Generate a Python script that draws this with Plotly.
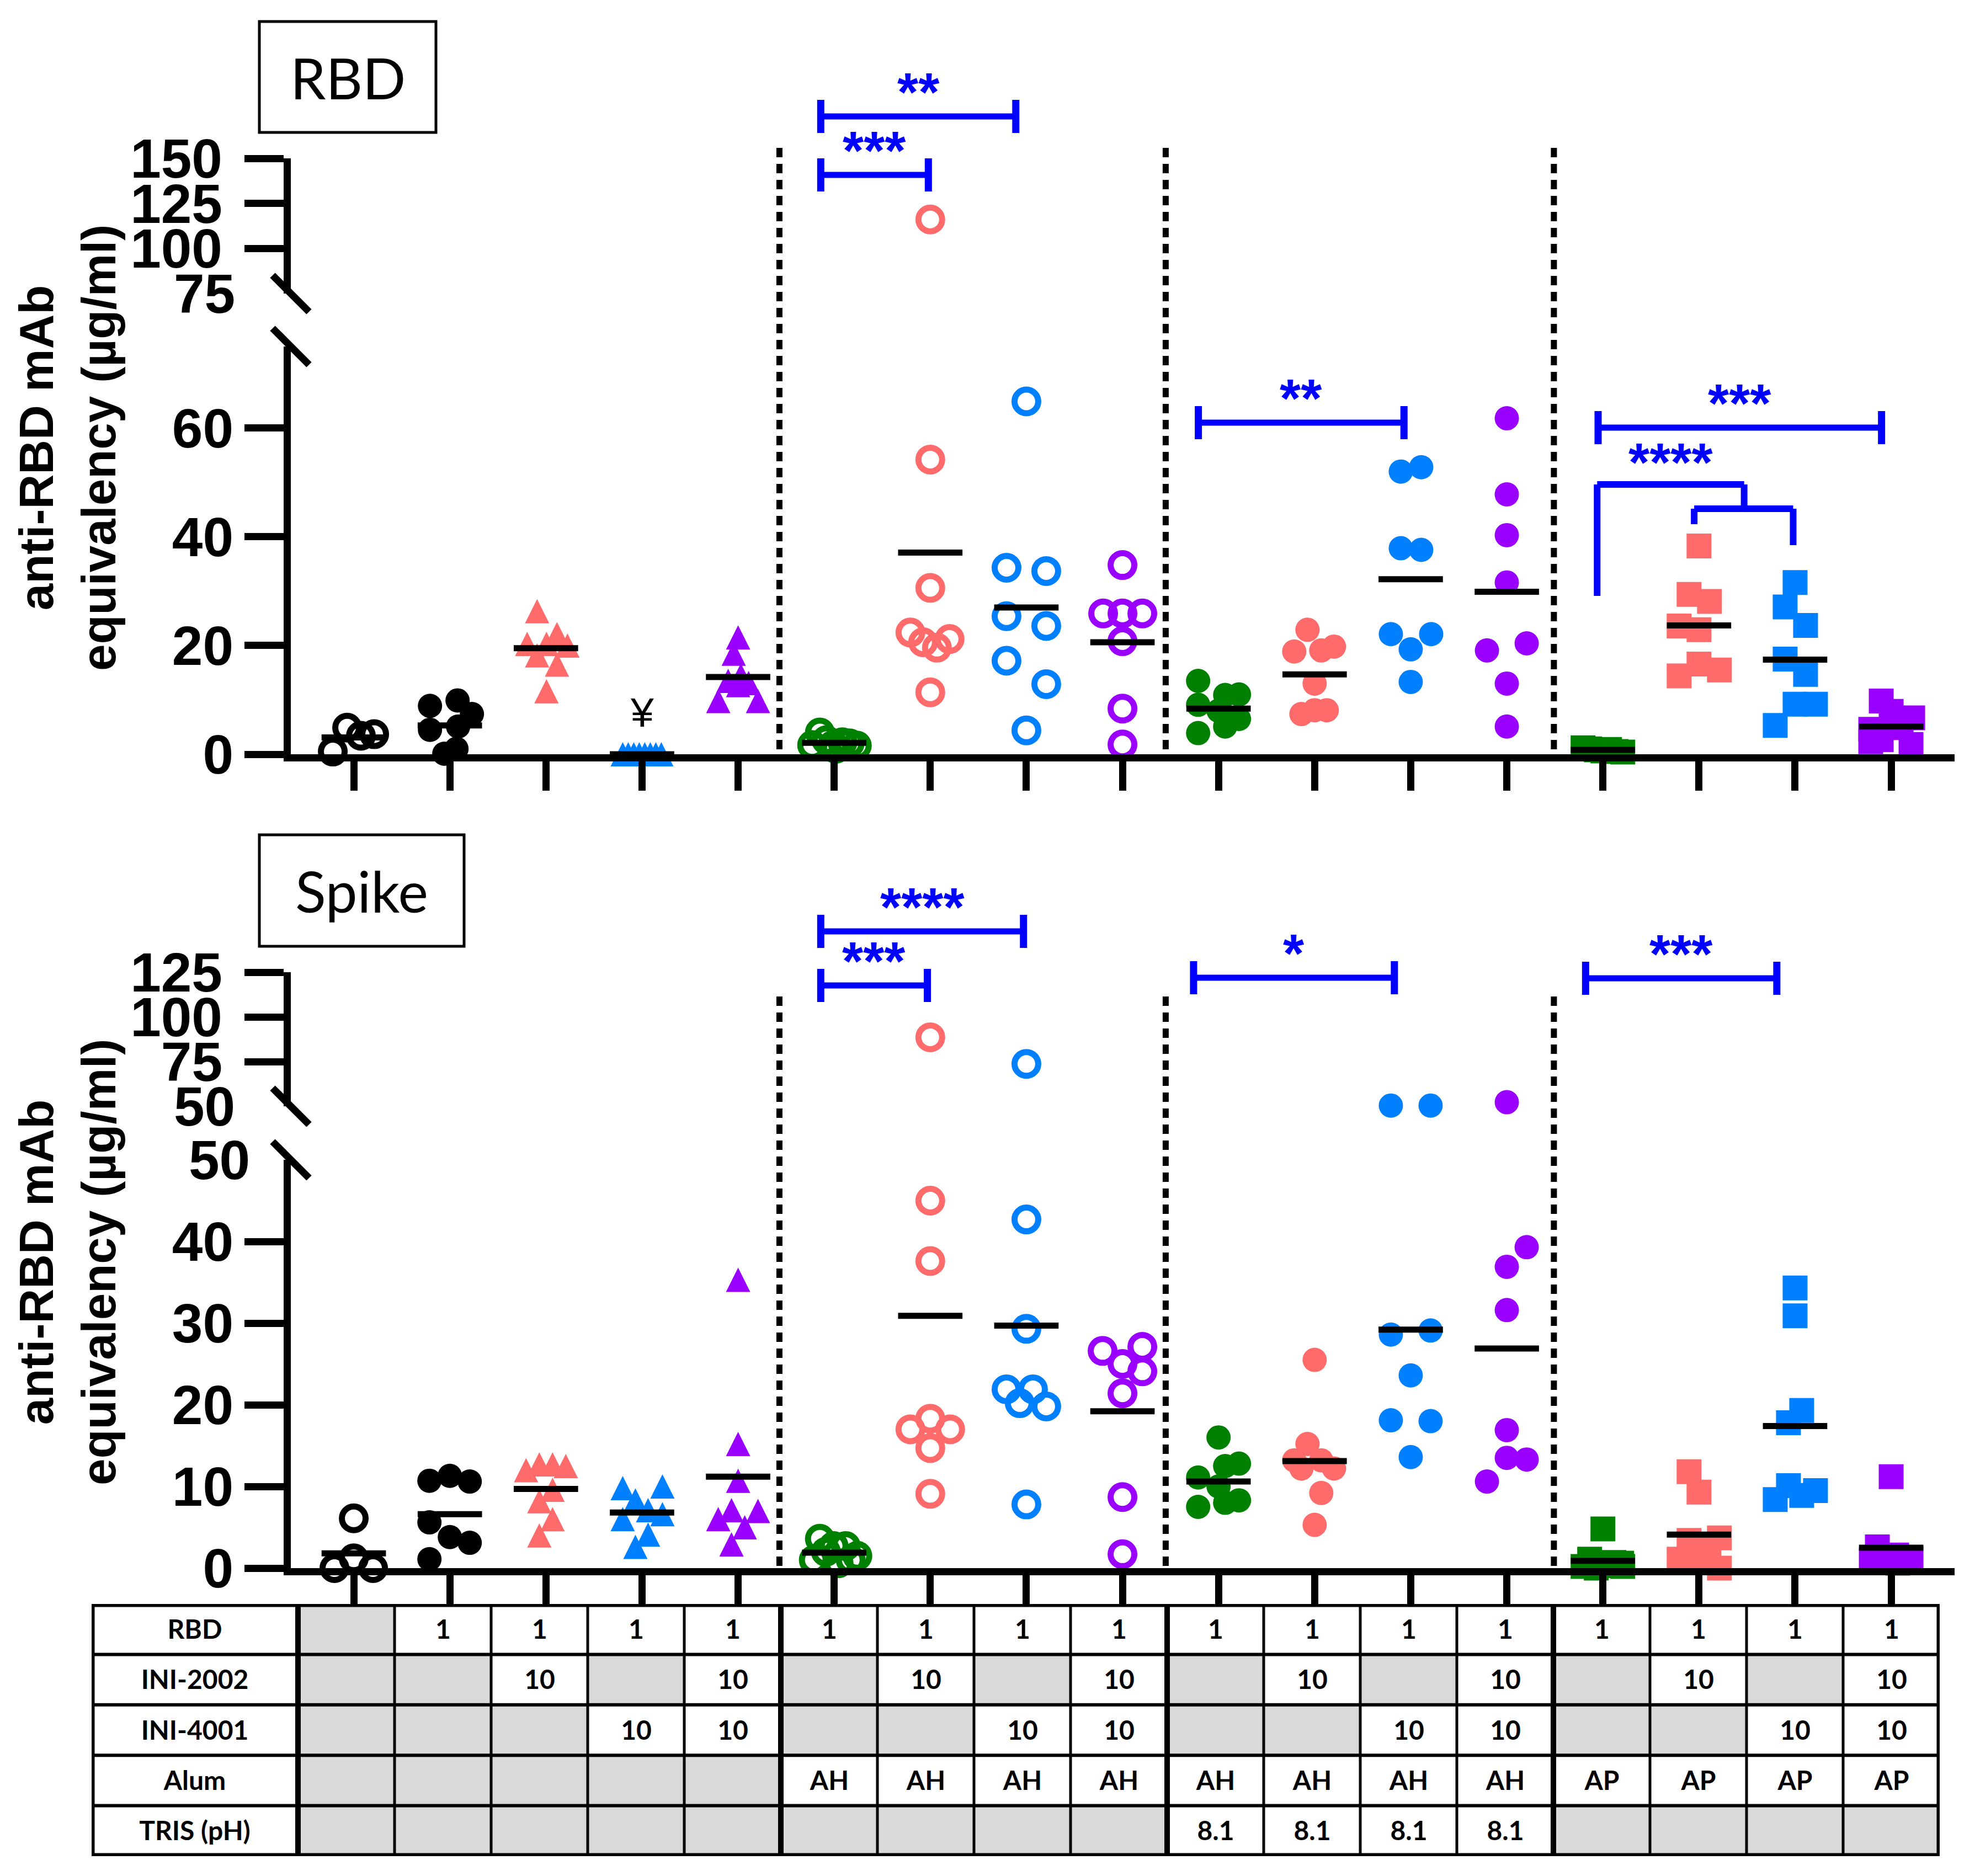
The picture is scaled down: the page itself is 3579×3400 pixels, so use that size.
import plotly.graph_objects as go

W, H = 3579, 3400
PAGE_MARGIN = 8  # default body margin of the written html page

# ---------------- DATA ----------------
GROUP_IDX = list(range(17))

# RBD panel values (anti-RBD mAb equivalency, ug/ml)
RBD_PBS = [0.5, 4.9, 3.4, 3.7]
RBD_RBD = [8.9, 9.9, 7.4, 4.5, 5.1, 1.0, 0.1]
RBD_2002 = [26.3, 20.3, 20.3, 22.1, 20.0, 18.2, 16.5, 11.6]
RBD_4001 = [0.0, 0.0, 0.0, 0.0, 0.0, 0.0, 0.0, 0.0]
RBD_COMBO = [21.5, 18.5, 14.5, 13.5, 13.1, 12.7, 9.8, 9.8]
RBD_AH = [4.0, 1.7, 2.2, 1.6, 1.0, 2.6, 2.0, 1.7]
RBD_AH_2002 = [116.1, 54.2, 30.6, 22.4, 21.2, 20.6, 19.6, 11.4]
RBD_AH_4001 = [64.9, 34.3, 33.7, 25.4, 23.6, 17.2, 12.9, 4.4]
RBD_AH_COMBO = [34.8, 25.9, 25.9, 25.9, 20.8, 8.4, 1.8]
RBD_TRIS = [13.5, 9.1, 10.9, 11.0, 6.5, 5.1, 3.9, 8.0]
RBD_TRIS_2002 = [22.9, 18.9, 19.1, 19.8, 13.0, 7.4, 8.1, 8.1]
RBD_TRIS_4001 = [52.0, 52.8, 37.9, 37.6, 22.1, 22.1, 19.3, 13.3]
RBD_TRIS_COMBO = [61.8, 47.8, 40.3, 31.6, 20.4, 19.1, 13.0, 5.1]
RBD_AP = [1.2, 1.0, 0.8, 0.6, 0.9, 0.5, 0.4, 0.7]
RBD_AP_2002 = [38.3, 29.4, 28.1, 23.6, 22.9, 16.6, 14.4, 15.5]
RBD_AP_4001 = [31.6, 27.1, 23.7, 17.5, 14.7, 9.2, 9.2, 5.3]
RBD_AP_COMBO = [9.8, 7.9, 6.7, 4.6, 2.7, 1.8, 2.3, 4.9]
RBD_MEANS = [3.1, 5.3, 19.5, 0.0, 14.2, 2.1, 37.1, 27.0, 20.6, 8.4, 14.7, 32.2, 29.9, 0.8, 23.7, 17.4, 5.1]

# Spike panel values
SPK_PBS = [6.1, 1.2, 0.0, 0.0]
SPK_RBD = [10.7, 11.3, 10.6, 5.6, 3.8, 3.1, 1.1]
SPK_2002 = [12.7, 12.7, 12.5, 12.0, 9.6, 8.2, 6.0, 4.0]
SPK_4001 = [10.0, 9.8, 8.3, 7.1, 6.6, 6.0, 4.1, 2.6]
SPK_COMBO = [35.3, 15.2, 10.7, 7.1, 7.0, 6.0, 5.0, 2.9]
SPK_AH = [3.6, 2.7, 2.7, 1.5, 1.0, 0.6, 1.0, 2.0]
SPK_AH_2002 = [88.6, 45.0, 37.6, 18.3, 17.0, 17.0, 14.7, 9.1]
SPK_AH_4001 = [73.7, 42.7, 29.3, 21.9, 21.9, 20.2, 19.8, 7.8]
SPK_AH_COMBO = [26.6, 27.1, 25.0, 24.1, 21.4, 8.7, 1.7]
SPK_TRIS = [16.0, 12.5, 12.8, 11.1, 10.0, 8.3, 8.0, 7.5]
SPK_TRIS_2002 = [25.5, 15.2, 13.2, 13.2, 12.2, 12.2, 9.2, 5.3]
SPK_TRIS_4001 = [50.4, 50.4, 28.6, 29.1, 23.6, 18.1, 18.0, 13.6]
SPK_TRIS_COMBO = [52.3, 39.3, 36.9, 31.6, 16.9, 13.5, 13.3, 10.6]
SPK_AP = [4.8, 1.1, 0.7, 0.6, 0.2, 0.3, 0.0, 0.2]
SPK_AP_2002 = [11.8, 9.3, 3.4, 3.7, 2.5, 1.1, 0.0, 1.0]
SPK_AP_4001 = [34.3, 30.9, 19.3, 17.8, 10.1, 9.5, 8.9, 8.4]
SPK_AP_COMBO = [11.2, 2.6, 1.6, 1.0, 0.6, 1.2, 0.8, 1.0]
SPK_MEANS = [1.8, 6.6, 9.7, 6.8, 11.2, 1.9, 30.9, 29.7, 19.2, 10.6, 13.1, 29.2, 26.9, 0.9, 4.1, 17.4, 2.5]

# horizontal scatter of points within a column (pixels)
RBD_JIT = [
    [-38, -12, 13, 37], [-36, 14, 40, -36, 15, 12, -10], [-16, -34, 1, 20, 39, -16, 20, 1],
    [-35, -25, -15, -5, 5, 15, 25, 35], [0, -8, 5, -18, 19, 0, -36, 36], [-26, -40, 15, 41, 3, -14, 28, -2],
    [0, 0, 0, -36, 35, -13, 12, 0], [0, -36, 36, -36, 36, -36, 36, 0], [0, -35, 0, 36, 0, 0, 0],
    [-37, -37, 12, 37, 37, 12, -37, 0], [-13, -37, 12, 35, 0, -24, 0, 22], [-18, 19, -18, 19, -36, 37, 0, 0],
    [0, 0, 0, 0, 36, -36, 0, 0], [-36, -24, -12, 0, 12, 24, 36, 6], [0, -18, 19, -36, 0, 0, -36, 37],
    [0, -18, 19, -18, 19, 0, 37, -36], [-18, 0, 39, -37, -18, 36, -37, 18]]
SPK_JIT = [
    [0, 0, -35, 35], [-37, 0, 36, -37, 0, 36, -37], [-12, 12, 36, -36, 12, -12, 12, -12],
    [37, -35, -12, 11, 37, -35, 11, -12], [0, 0, 0, -12, 36, -36, 12, -12], [-26, -1, 21, 42, -37, 8, 30, -15],
    [0, 0, 0, 0, -36, 36, 0, 0], [0, 0, 0, -36, 12, -12, 36, 0], [-36, 36, 0, 36, 0, 0, 0],
    [0, 12, 37, -37, 0, 37, 12, -37], [0, -13, -37, 12, 35, -24, 12, 0], [-36, 36, -36, 36, 0, -36, 36, 0],
    [0, 36, 0, 0, 0, 0, 36, -36], [0, -24, 20, 34, -36, 12, -12, 36], [-18, 0, -18, 37, 18, -36, 37, 0],
    [0, 0, 12, -12, -12, 37, 12, -36], [0, -25, 10, -36, 12, 36, -12, 24]]

RBD_GROUPS = [RBD_PBS, RBD_RBD, RBD_2002, RBD_4001, RBD_COMBO, RBD_AH, RBD_AH_2002, RBD_AH_4001,
              RBD_AH_COMBO, RBD_TRIS, RBD_TRIS_2002, RBD_TRIS_4001, RBD_TRIS_COMBO, RBD_AP,
              RBD_AP_2002, RBD_AP_4001, RBD_AP_COMBO]
SPK_GROUPS = [SPK_PBS, SPK_RBD, SPK_2002, SPK_4001, SPK_COMBO, SPK_AH, SPK_AH_2002, SPK_AH_4001,
              SPK_AH_COMBO, SPK_TRIS, SPK_TRIS_2002, SPK_TRIS_4001, SPK_TRIS_COMBO, SPK_AP,
              SPK_AP_2002, SPK_AP_4001, SPK_AP_COMBO]

KINDS = ["open", "dot", "tri", "tri", "tri", "open", "open", "open", "open",
         "dot", "dot", "dot", "dot", "sq", "sq", "sq", "sq"]
BLACK, SALMON, BLUE, PURPLE, GREEN = "#000000", "#FF6A6A", "#0080FF", "#9900FF", "#008000"
COLORS = [BLACK, BLACK, SALMON, BLUE, PURPLE, GREEN, SALMON, BLUE, PURPLE,
          GREEN, SALMON, BLUE, PURPLE, GREEN, SALMON, BLUE, PURPLE]

# significance brackets: (x-start, x-end, y px, label)
RBD_BRACKETS = [(4.86, 6.89, 211, "**"), (4.86, 5.98, 317, "***"),
                (8.79, 10.93, 766, "**"), (12.95, 15.90, 775, "***")]
SPK_BRACKETS = [(4.86, 6.97, 1688, "****"), (4.86, 5.97, 1786, "***"),
                (8.74, 10.83, 1772, "*"), (12.82, 14.81, 1773, "***")]

# table
ROW_LABELS = ["RBD", "INI-2002", "INI-4001", "Alum", "TRIS (pH)"]
ROW_RBD = [""] + ["1"] * 16
ROW_2002 = ["", "", "10", "", "10", "", "10", "", "10", "", "10", "", "10", "", "10", "", "10"]
ROW_4001 = ["", "", "", "10", "10", "", "", "10", "10", "", "", "10", "10", "", "", "10", "10"]
ROW_ALUM = ["", "", "", "", "", "AH", "AH", "AH", "AH", "AH", "AH", "AH", "AH", "AP", "AP", "AP", "AP"]
ROW_TRIS = [""] * 9 + ["8.1"] * 4 + [""] * 4

# ---------------- LAYOUT ----------------
X_LEFT, X_RIGHT = 527, 3542
X_RANGE = [-0.655, 16.66]
PX_PER_CAT = (X_RIGHT - X_LEFT) / (X_RANGE[1] - X_RANGE[0])


def pxx(v):
    return (v - PAGE_MARGIN) / W


def pxy(v):
    return 1 - (v - PAGE_MARGIN) / H


PANELS = [
    dict(xa="x", ya_lo="y", ya_hi="y2", lo=(1367, 628), hi=(532, 287), lo_range=[0, 75], hi_range=[75, 150],
         lo_ticks=[0, 20, 40, 60], hi_ticks=[100, 125, 150], brk=75, groups=RBD_GROUPS, jit=RBD_JIT,
         means=RBD_MEANS, lo_label=None, hi_label="75", dot_top=268, brackets=RBD_BRACKETS,
         box=(470, 39, 790, 240, "RBD"), title_y=812, ticklen=53),
    dict(xa="x2", ya_lo="y3", ya_hi="y4", lo=(2842, 2102), hi=(2005, 1762), lo_range=[0, 50], hi_range=[50, 125],
         lo_ticks=[0, 10, 20, 30, 40], hi_ticks=[75, 100, 125], brk=50, groups=SPK_GROUPS, jit=SPK_JIT,
         means=SPK_MEANS, lo_label="50", hi_label="50", dot_top=1806, brackets=SPK_BRACKETS,
         box=(470, 1513, 841, 1715, "Spike"), title_y=2288, ticklen=62),
]
SEPARATORS = [4.43, 8.45, 12.49]

TICKFONT = dict(family="Liberation Sans", size=100, color="black", weight="bold")
STARFONT = dict(family="Liberation Sans", size=98, color="#0000FF", weight="bold")
fig = go.Figure()
shapes, annotations = [], []


def marker_for(kind, color):
    if kind == "open":
        return dict(symbol="circle-open", size=43, color=color, line=dict(width=11, color=color))
    if kind == "dot":
        return dict(symbol="circle", size=44, color=color, line=dict(width=0))
    if kind == "tri":
        return dict(symbol="arrow-down", angle=180, standoff=22, size=44, color=color, line=dict(width=0))
    return dict(symbol="square", size=45, color=color, line=dict(width=0))


for p in PANELS:
    for g, vals in enumerate(p["groups"]):
        xs = [GROUP_IDX[g] + j / PX_PER_CAT for j in p["jit"][g]]
        lo_x = [x for x, v in zip(xs, vals) if v <= p["brk"]]
        lo_v = [v for v in vals if v <= p["brk"]]
        hi_x = [x for x, v in zip(xs, vals) if v > p["brk"]]
        hi_v = [v for v in vals if v > p["brk"]]
        mk = marker_for(KINDS[g], COLORS[g])
        for ax_y, xx, vv in ((p["ya_lo"], lo_x, lo_v), (p["ya_hi"], hi_x, hi_v)):
            if vv:
                fig.add_trace(go.Scatter(x=xx, y=vv, mode="markers", marker=mk, xaxis=p["xa"], yaxis=ax_y,
                                         cliponaxis=False, hoverinfo="skip", showlegend=False))
    mx, my = [], []
    for g, m in zip(GROUP_IDX, p["means"]):
        mx += [g - 0.335, g + 0.335, None]
        my += [m, m, None]
    fig.add_trace(go.Scatter(x=mx, y=my, mode="lines", line=dict(color="black", width=11),
                             xaxis=p["xa"], yaxis=p["ya_lo"], cliponaxis=False, hoverinfo="skip",
                             showlegend=False))

    # dotted separators
    for sx in SEPARATORS:
        shapes.append(dict(type="line", xref=p["xa"], yref="paper", x0=sx, x1=sx,
                           y0=pxy(p["dot_top"]), y1=pxy(p["lo"][0]),
                           line=dict(color="black", width=11, dash="17px,12px")))
    # break marks
    for cy in (p["hi"][0], p["lo"][1]):
        shapes.append(dict(type="line", xref="paper", yref="paper", x0=pxx(X_LEFT - 33), x1=pxx(X_LEFT + 33),
                           y0=pxy(cy - 33), y1=pxy(cy + 33), line=dict(color="black", width=13)))
    if p["hi_label"]:
        annotations.append(dict(text=p["hi_label"], xref="paper", yref="paper", x=pxx(428), y=pxy(p["hi"][0]),
                                xanchor="right", yanchor="middle", showarrow=False, font=TICKFONT))
    if p["lo_label"]:
        annotations.append(dict(text=p["lo_label"], xref="paper", yref="paper", x=pxx(455), y=pxy(p["lo"][1]),
                                xanchor="right", yanchor="middle", showarrow=False, font=TICKFONT))
    # brackets
    for x0, x1, ypx, lab in p["brackets"]:
        shapes.append(dict(type="line", xref=p["xa"], yref="paper", x0=x0, x1=x1, y0=pxy(ypx), y1=pxy(ypx),
                           line=dict(color="#0000FF", width=11)))
        for xc in (x0, x1):
            shapes.append(dict(type="line", xref=p["xa"], yref="paper", x0=xc, x1=xc,
                               y0=pxy(ypx - 30), y1=pxy(ypx + 30), line=dict(color="#0000FF", width=13)))
        annotations.append(dict(text=lab, xref=p["xa"], yref="paper", x=(x0 + x1) / 2, y=pxy(ypx - 56 + 12),
                                xanchor="center", yanchor="middle", showarrow=False, font=STARFONT))
    # title box
    bx0, by0, bx1, by1, btxt = p["box"]
    shapes.append(dict(type="rect", xref="paper", yref="paper", x0=pxx(bx0), x1=pxx(bx1), y0=pxy(by1),
                       y1=pxy(by0), line=dict(color="black", width=5)))
    annotations.append(dict(text=btxt, xref="paper", yref="paper", x=pxx((bx0 + bx1) / 2), y=pxy((by0 + by1) / 2),
                            xanchor="center", yanchor="middle", showarrow=False,
                            font=dict(family="Lato", size=103, color="black")))
    # y title
    annotations.append(dict(text="anti-RBD mAb<br>equivalency (µg/ml)", xref="paper", yref="paper",
                            x=pxx(122), y=pxy(p["title_y"]), xanchor="center", yanchor="middle",
                            textangle=-90, showarrow=False,
                            font=dict(family="Liberation Sans", size=87, color="black", weight="bold")))

# complex bracket (AP group, RBD panel)
CPLX = [((12.94, 878), (12.94, 1080)), ((12.94, 878), (14.47, 878)), ((14.47, 878), (14.47, 922)),
        ((13.95, 922), (14.98, 922)), ((13.95, 922), (13.95, 950)), ((14.98, 922), (14.98, 988))]
for (ax0, ay0), (ax1, ay1) in CPLX:
    shapes.append(dict(type="line", xref="x", yref="paper", x0=ax0, x1=ax1, y0=pxy(ay0), y1=pxy(ay1),
                       line=dict(color="#0000FF", width=12)))
annotations.append(dict(text="****", xref="x", yref="paper", x=(12.94 + 14.47) / 2, y=pxy(826 + 12),
                        xanchor="center", yanchor="middle", showarrow=False, font=STARFONT))
annotations.append(dict(text="¥", xref="x", yref="y", x=3, y=7.7, xanchor="center", yanchor="middle",
                        showarrow=False, font=dict(family="Liberation Sans", size=75, color="black")))

# ---------------- TABLE ----------------
LABEL_W = 374 / 175
T_LEFT = -0.5 - LABEL_W
x_edges = [T_LEFT, -0.5] + [g + 0.5 for g in GROUP_IDX]
rows = [ROW_RBD, ROW_2002, ROW_4001, ROW_ALUM, ROW_TRIS]
ztab = [[1] + [1 if c else 0 for c in r] for r in rows]
ttab = [[lab] + r for lab, r in zip(ROW_LABELS, rows)]
fig.add_trace(go.Heatmap(z=ztab, x=x_edges, y=list(range(5)), text=ttab, texttemplate="%{text}",
                         textfont=dict(family="Lato", size=48, color="black", weight="bold"),
                         colorscale=[[0, "#D9D9D9"], [1, "#FFFFFF"]], zmin=0, zmax=1, showscale=False,
                         hoverinfo="skip", xaxis="x3", yaxis="y5"))
for r in range(1, 5):
    shapes.append(dict(type="line", xref="x3", yref="y5", x0=T_LEFT, x1=16.5, y0=r - 0.5, y1=r - 0.5,
                       line=dict(color="black", width=6)))
for k in range(-1, 16):
    wv = 10 if k in (-1, 4, 8, 12) else 5
    shapes.append(dict(type="line", xref="x3", yref="y5", x0=k + 0.5, x1=k + 0.5, y0=-0.5, y1=4.5,
                       line=dict(color="black", width=wv)))
shapes.append(dict(type="rect", xref="x3", yref="y5", x0=T_LEFT, x1=16.5, y0=-0.5, y1=4.5,
                   line=dict(color="black", width=11)))

# ---------------- AXES ----------------
base_ax = dict(showline=True, linecolor="black", linewidth=13, ticks="outside", tickcolor="black",
               tickwidth=13, showgrid=False, zeroline=False, tickfont=TICKFONT, fixedrange=True,
               automargin=False)
layout_axes = {}
for i, p in enumerate(PANELS):
    xname = "xaxis" if i == 0 else "xaxis2"
    ylo = "yaxis" if i == 0 else "yaxis3"
    yhi = "yaxis2" if i == 0 else "yaxis4"
    layout_axes[xname] = dict(base_ax, domain=[pxx(X_LEFT), pxx(X_RIGHT)], range=X_RANGE, tickvals=GROUP_IDX,
                              showticklabels=False, ticklen=p["ticklen"], anchor=p["ya_lo"])
    layout_axes[ylo] = dict(base_ax, domain=[pxy(p["lo"][0]), pxy(p["lo"][1])], range=p["lo_range"],
                            tickvals=p["lo_ticks"], ticklen=71, anchor=p["xa"], ticklabelstandoff=0)
    layout_axes[yhi] = dict(base_ax, domain=[pxy(p["hi"][0]), pxy(p["hi"][1])], range=p["hi_range"],
                            tickvals=p["hi_ticks"], ticklen=71, anchor=p["xa"], ticklabelstandoff=20)
layout_axes["xaxis3"] = dict(domain=[pxx(166), pxx(3515)], range=[T_LEFT, 16.5], visible=False,
                             anchor="y5", fixedrange=True, automargin=False)
layout_axes["yaxis5"] = dict(domain=[pxy(3364), pxy(2907)], range=[4.5, -0.5], visible=False,
                             anchor="x3", fixedrange=True, automargin=False)

fig.update_layout(template="none", width=W, height=H, autosize=False,
                  margin=dict(l=0, r=0, t=0, b=0, pad=0, autoexpand=False),
                  paper_bgcolor="white", plot_bgcolor="white", showlegend=False,
                  shapes=shapes, annotations=annotations, **layout_axes)
fig.write_html("out.html")
